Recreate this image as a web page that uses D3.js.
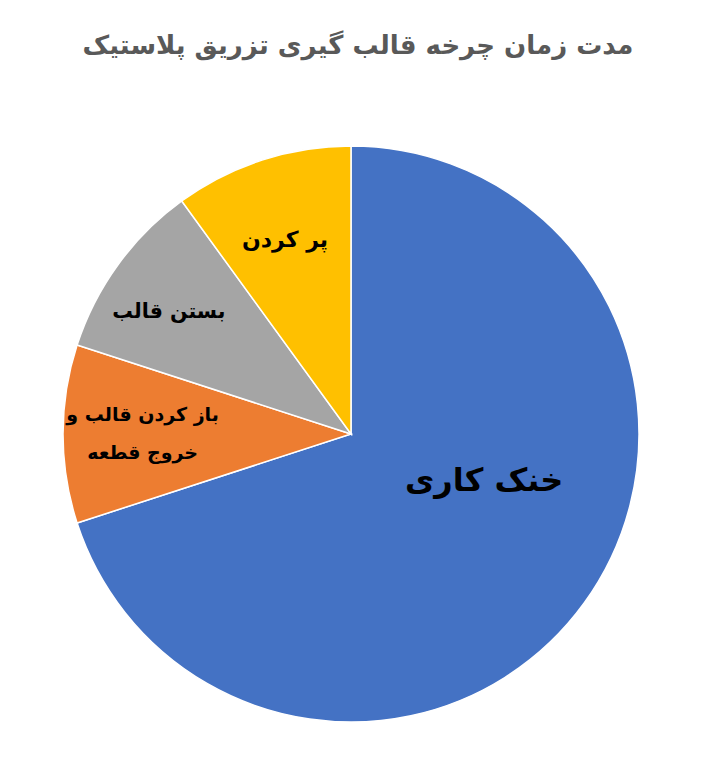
<!DOCTYPE html>
<html lang="fa">
<head>
<meta charset="utf-8">
<script src="https://cdn.jsdelivr.net/npm/d3@7"></script>
<style>
  body { margin: 0; background: #fff; }
  svg text { font-family: "DejaVu Sans", sans-serif; font-weight: bold; }
</style>
</head>
<body>
<div id="chart"></div>
<script>
// Data
const labels = ["خنک کاری", "باز کردن قالب و|خروج  قطعه", "بستن قالب", "پر کردن"];
const values = [70, 10, 10, 10];
const colors = ["#4472C4", "#ED7D31", "#A5A5A5", "#FFC000"];

const width = 707;
const height = 770;
const radius = 288;
const cx = 351, cy = 434;

const svg = d3.select("#chart")
    .append("svg")
    .attr("width", width)
    .attr("height", height);

// Title
svg.append("text")
    .attr("x", 358)
    .attr("y", 54)
    .attr("text-anchor", "middle")
    .attr("direction", "rtl")
    .attr("fill", "#595959")
    .style("font-size", "26px")
    .text("مدت زمان چرخه قالب گیری تزریق پلاستیک");

const g = svg.append("g")
    .attr("transform", `translate(${cx}, ${cy})`);

const pie = d3.pie().sort(null).value(d => d);
const arc = d3.arc().innerRadius(0).outerRadius(radius);

const arcs = pie(values);

g.selectAll("path")
    .data(arcs)
    .enter()
    .append("path")
    .attr("d", arc)
    .attr("fill", (d, i) => colors[i])
    .attr("stroke", "#fff")
    .attr("stroke-width", 1.5);

// Labels: start at the slice centroid, then nudge like the original
const labelArc = d3.arc().innerRadius(radius * 0.55).outerRadius(radius * 0.55);
const labelSizes = [32, 19, 20.5, 22];
const labelOffsets = [[5, -46], [-50, 0], [-54, -29], [-17, -43]];
const lineGap = 38;

arcs.forEach((d, i) => {
    const [x, y] = labelArc.centroid(d);
    const lines = labels[i].split("|");
    const t = g.append("text")
        .attr("text-anchor", "middle")
        .attr("direction", "rtl")
        .attr("fill", "#000")
        .style("font-size", labelSizes[i] + "px")
        .attr("transform", `translate(${x + labelOffsets[i][0]}, ${y + labelOffsets[i][1]})`);
    lines.forEach((ln, j) => {
        t.append("tspan")
            .attr("x", 0)
            .attr("y", (j - (lines.length - 1) / 2) * lineGap)
            .attr("dy", "0.3em")
            .text(ln);
    });
});
</script>
</body>
</html>
